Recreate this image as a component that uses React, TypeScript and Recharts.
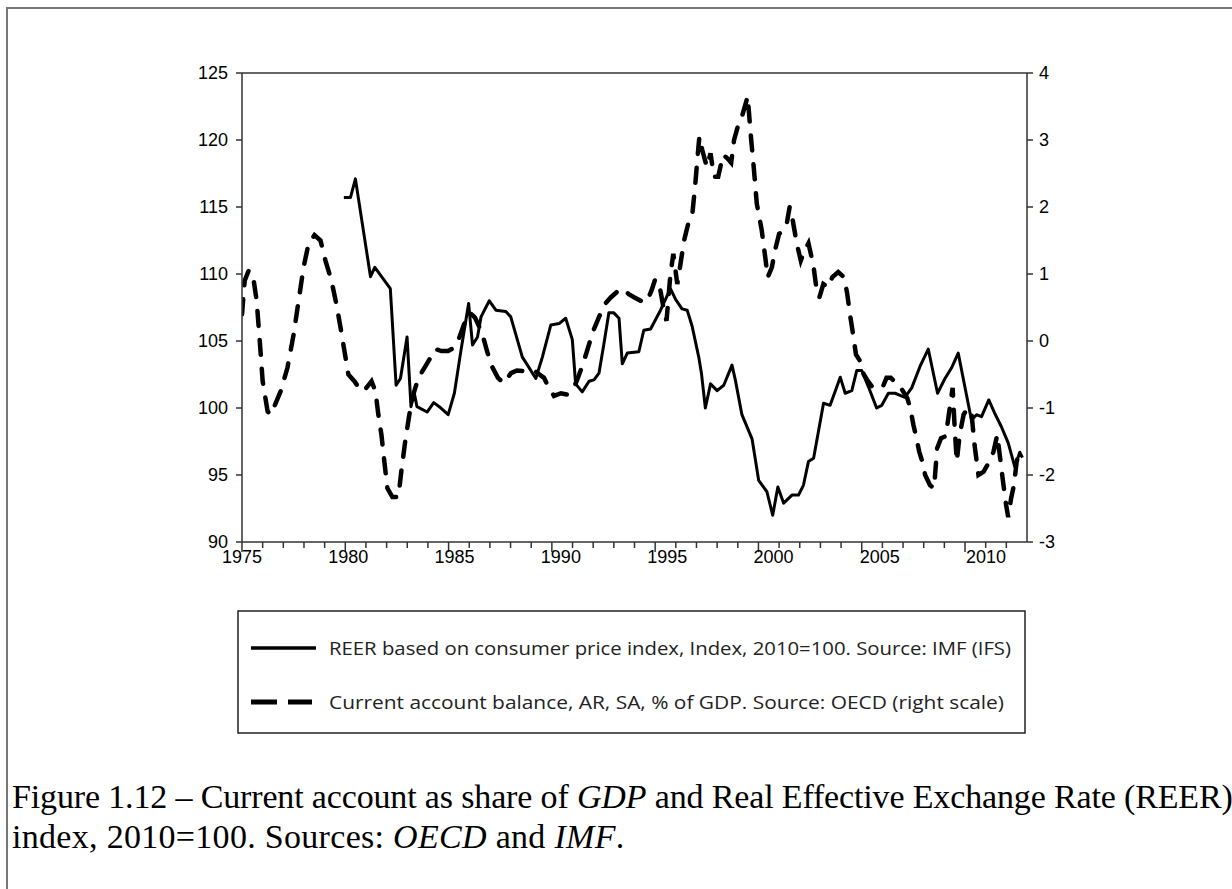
import React from "react";
import { Line, LineChart, ReferenceLine, XAxis, YAxis } from "recharts";

// REER (left scale), vertices
const reerYear = [
  1979.93, 1980.25, 1980.49, 1981.22, 1981.43, 1982.18, 1982.46, 1982.67, 1982.99, 1983.18,
  1983.34, 1983.47, 1983.96, 1984.28, 1984.55, 1984.98, 1985.28, 1985.6, 1985.97, 1986.16,
  1986.4, 1986.57, 1986.97, 1987.29, 1987.77, 1988.01, 1988.57, 1988.82, 1989.22, 1989.54,
  1989.95, 1990.35, 1990.67, 1990.99, 1991.15, 1991.47, 1991.8, 1992.04, 1992.28, 1992.52,
  1992.76, 1993.0, 1993.25, 1993.41, 1993.65, 1994.21, 1994.45, 1994.78, 1995.26, 1995.74,
  1995.99, 1996.3, 1996.55, 1996.79, 1997.11, 1997.24, 1997.43, 1997.68, 1998.0, 1998.32,
  1998.72, 1998.88, 1999.2, 1999.69, 2000.01, 2000.41, 2000.69, 2000.94, 2001.22, 2001.62,
  2001.94, 2002.18, 2002.42, 2002.67, 2003.15, 2003.47, 2003.96, 2004.2, 2004.52, 2004.76,
  2005.0, 2005.32, 2005.72, 2005.97, 2006.29, 2006.61, 2007.09, 2007.42, 2007.82, 2008.22,
  2008.67, 2009.03, 2009.35, 2009.67, 2009.99, 2010.31, 2010.56, 2010.8, 2011.15, 2011.44,
  2011.76, 2012.09, 2012.41, 2012.65, 2012.78
];
const reerValue = [
  115.7, 115.7, 117.1, 109.8, 110.5, 108.9, 101.7, 102.2, 105.3, 100.1,
  101.1, 100.1, 99.7, 100.4, 100.1, 99.5, 101.1, 104.3, 107.8, 104.7,
  105.3, 106.8, 108.0, 107.3, 107.2, 106.8, 103.8, 103.2, 102.2, 103.8,
  106.2, 106.3, 106.7, 105.1, 101.8, 101.2, 102.0, 102.1, 102.6, 104.8,
  107.1, 107.1, 106.7, 103.3, 104.1, 104.2, 105.8, 105.9, 107.3, 108.9,
  108.1, 107.4, 107.3, 106.1, 103.8, 102.6, 100.0, 101.8, 101.3, 101.7,
  103.2, 102.1, 99.5, 97.7, 94.6, 93.75, 92.0, 94.1, 92.9, 93.5,
  93.5, 94.25, 96.0, 96.25, 100.35, 100.2, 102.3, 101.1, 101.3, 102.8,
  102.8, 101.6, 100.0, 100.2, 101.1, 101.1, 100.8, 101.5, 103.1, 104.4,
  101.1, 102.2, 103.0, 104.1, 101.6, 99.1, 99.5, 99.35, 100.6, 99.6,
  98.6, 97.4, 95.6, 96.7, 96.3
];

// Current account balance, % of GDP (right scale)
const caYear = [
  1975.0, 1975.13, 1975.32, 1975.52, 1975.71, 1975.86, 1976.0, 1976.24, 1976.4, 1976.87,
  1977.2, 1977.5, 1977.74, 1977.98, 1978.22, 1978.51, 1978.8, 1979.04, 1979.33, 1979.57,
  1979.77, 1979.96, 1980.15, 1980.44, 1980.78, 1981.02, 1981.27, 1981.46, 1981.6, 1981.75,
  1981.89, 1982.04, 1982.28, 1982.57, 1982.71, 1982.9, 1983.1, 1983.29, 1983.54, 1983.83,
  1984.12, 1984.36, 1984.65, 1984.98, 1985.27, 1985.46, 1985.75, 1986.04, 1986.28, 1986.62,
  1986.86, 1987.1, 1987.39, 1987.68, 1988.02, 1988.31, 1988.65, 1988.99, 1989.23, 1989.62,
  1989.86, 1990.1, 1990.44, 1990.73, 1991.02, 1991.2, 1991.5, 1991.75, 1992.0, 1992.27,
  1992.56, 1992.85, 1993.14, 1993.43, 1993.72, 1994.0, 1994.3, 1994.58, 1994.82, 1995.0,
  1995.2, 1995.4, 1995.55, 1995.74, 1995.88, 1996.07, 1996.2, 1996.4, 1996.6, 1996.8,
  1996.93, 1997.04, 1997.14, 1997.28, 1997.5, 1997.68, 1997.85, 1998.05, 1998.29, 1998.48,
  1998.68, 1998.82, 1999.0, 1999.2, 1999.48, 1999.62, 1999.77, 1999.92, 2000.16, 2000.35,
  2000.45, 2000.65, 2000.8, 2001.0, 2001.22, 2001.37, 2001.51, 2001.66, 2001.86, 2002.05,
  2002.23, 2002.42, 2002.66, 2002.8, 2002.95, 2003.14, 2003.38, 2003.57, 2003.86, 2004.15,
  2004.3, 2004.43, 2004.58, 2004.72, 2004.92, 2005.1, 2005.3, 2005.5, 2005.76, 2006.0,
  2006.2, 2006.4, 2006.58, 2006.8, 2007.0, 2007.2, 2007.35, 2007.5, 2007.65, 2007.78,
  2007.93, 2008.07, 2008.3, 2008.5, 2008.65, 2008.84, 2009.07, 2009.26, 2009.4, 2009.5,
  2009.6, 2009.74, 2009.93, 2010.13, 2010.32, 2010.46, 2010.65, 2010.9, 2011.18, 2011.38,
  2011.56, 2011.7, 2011.84, 2011.99, 2012.09, 2012.23, 2012.37, 2012.5, 2012.66
];
const caValue = [
  0.4, 0.9, 1.05, 1.0, 0.6, 0.0, -0.6, -1.05, -1.1, -0.75,
  -0.4, 0.1, 0.6, 1.1, 1.45, 1.58, 1.5, 1.2, 0.9, 0.55,
  0.2, -0.15, -0.5, -0.6, -0.75, -0.7, -0.6, -0.75, -1.1, -1.4,
  -1.8, -2.2, -2.33, -2.33, -1.95, -1.5, -1.1, -0.8, -0.55, -0.4,
  -0.25, -0.12, -0.15, -0.15, -0.1, 0.0, 0.25, 0.42, 0.35, 0.12,
  -0.15, -0.38, -0.55, -0.63, -0.48, -0.44, -0.45, -0.45, -0.46, -0.55,
  -0.7, -0.82, -0.78, -0.8, -0.72, -0.6, -0.35, -0.1, 0.15, 0.35,
  0.55, 0.65, 0.73, 0.78, 0.7, 0.65, 0.6, 0.58, 0.75, 0.92,
  0.85, 0.5, 0.3, 1.0, 1.3, 0.85, 1.1, 1.5, 1.75, 1.9,
  2.3, 2.7, 3.05, 2.85, 2.6, 2.8, 2.45, 2.45, 2.78, 2.73,
  2.66, 3.0, 3.2, 3.35, 3.65, 3.1, 2.6, 2.05, 1.65, 1.2,
  0.95, 1.1, 1.35, 1.6, 1.65, 1.75, 2.0, 1.8, 1.45, 1.2,
  1.35, 1.46, 1.13, 0.8, 0.65, 0.85, 0.8, 0.95, 1.03, 0.95,
  0.7, 0.4, 0.1, -0.2, -0.3, -0.5, -0.6, -0.68, -0.7, -0.7,
  -0.55, -0.55, -0.6, -0.65, -0.75, -0.85, -1.0, -1.25, -1.45, -1.65,
  -1.8, -2.0, -2.15, -2.2, -1.6, -1.45, -1.42, -1.0, -0.7, -1.3,
  -1.8, -1.4, -1.1, -1.0, -1.1, -1.55, -2.0, -1.95, -1.8, -1.65,
  -1.4, -1.75, -2.1, -2.45, -2.63, -2.35, -2.15, -1.8, -1.6
];

const yearTicks = Array.from({ length: 38 }, (_, i) => 1975 + i);
const leftTicks = [90, 95, 100, 105, 110, 115, 120, 125];
const rightTicks = [-3, -2, -1, 0, 1, 2, 3, 4];

const legendLabels = [
  "REER based on consumer price index, Index, 2010=100. Source: IMF (IFS)",
  "Current account balance, AR, SA, % of GDP. Source: OECD (right scale)"
];

type Row = { t: number; reer?: number; ca?: number };

const rows: Row[] = (() => {
  const map = new Map<number, Row>();
  reerYear.forEach((t, i) => {
    const r = map.get(t) || { t };
    r.reer = reerValue[i];
    map.set(t, r);
  });
  caYear.forEach((t, i) => {
    const r = map.get(t) || { t };
    r.ca = caValue[i];
    map.set(t, r);
  });
  return Array.from(map.values()).sort((a, b) => a.t - b.t);
})();

const axisFont = "'Liberation Sans', Arial, sans-serif";
const axisColor = "#333";

const YearTick = (props: any) => {
  const { x, y, payload } = props;
  const major = payload.value % 5 === 0;
  // labels in the original drift a little to the right of their ticks
  const drift = (payload.value - 1975) * 0.6;
  return (
    <g>
      <line x1={x} x2={x} y1={y} y2={y + (major ? 10 : 6)} stroke={axisColor} strokeWidth={1.5} />
      {major && (
        <text x={x + drift} y={y + 21} textAnchor="middle" fontSize={18} fontFamily={axisFont} fill="#000">
          {payload.value}
        </text>
      )}
    </g>
  );
};

const legendFont = "'Liberation Sans Narrow', 'Open Sans', sans-serif";

const LegendBox = () => (
  <svg width={789} height={124} style={{ position: "absolute", left: 229, top: 601 }}>
    <rect x={1} y={1} width={787} height={122} fill="#fff" stroke="#222" strokeWidth={1.5} />
    <line x1={14} x2={79} y1={38} y2={38} stroke="#000" strokeWidth={3.5} />
    <line x1={14} x2={40} y1={92} y2={92} stroke="#000" strokeWidth={5} />
    <line x1={51} x2={75} y1={92} y2={92} stroke="#000" strokeWidth={5} />
    <text x={92} y={45} fontSize={19} fontFamily={legendFont} fill="#222" textLength={682} lengthAdjust="spacingAndGlyphs">
      {legendLabels[0]}
    </text>
    <text x={92} y={99} fontSize={19} fontFamily={legendFont} fill="#222" textLength={675} lengthAdjust="spacingAndGlyphs">
      {legendLabels[1]}
    </text>
  </svg>
);

export default function App() {
  return (
    <div
      style={{
        position: "absolute",
        left: 6,
        top: 7,
        width: 1224,
        height: 880,
        borderLeft: "2px solid #777",
        borderTop: "2px solid #777",
        overflow: "hidden",
        background: "#fff"
      }}
    >
      <div style={{ position: "absolute", left: 0, top: 0 }}>
        <LineChart
          width={1100}
          height={620}
          data={rows}
          margin={{ top: 64, right: 21, left: 174, bottom: 57 }}
        >
          <XAxis
            dataKey="t"
            type="number"
            domain={[1975, 2013]}
            ticks={yearTicks}
            interval={0}
            allowDataOverflow
            height={30}
            tickSize={0}
            tickMargin={0}
            tickLine={false}
            tick={<YearTick />}
            axisLine={{ stroke: axisColor, strokeWidth: 1.5 }}
          />
          <YAxis
            yAxisId="left"
            domain={[90, 125]}
            ticks={leftTicks}
            width={60}
            tickSize={6}
            tickMargin={8}
            tick={{ fontSize: 18, fill: "#000", fontFamily: axisFont }}
            tickLine={{ stroke: axisColor, strokeWidth: 1.5 }}
            axisLine={{ stroke: axisColor, strokeWidth: 1.5 }}
          />
          <YAxis
            yAxisId="right"
            orientation="right"
            domain={[-3, 4]}
            ticks={rightTicks}
            width={60}
            tickSize={6}
            tickMargin={6}
            tick={{ fontSize: 18, fill: "#000", fontFamily: axisFont }}
            tickLine={{ stroke: axisColor, strokeWidth: 1.5 }}
            axisLine={{ stroke: axisColor, strokeWidth: 1.5 }}
          />
          <ReferenceLine yAxisId="left" y={125} stroke={axisColor} strokeWidth={1.5} />
          <Line
            yAxisId="right"
            type="linear"
            dataKey="ca"
            stroke="#000"
            strokeWidth={4.5}
            strokeDasharray="15 14"
            strokeLinecap="round"
            dot={false}
            connectNulls
            isAnimationActive={false}
          />
          <Line
            yAxisId="left"
            type="linear"
            dataKey="reer"
            stroke="#000"
            strokeWidth={3}
            strokeLinejoin="round"
            dot={false}
            connectNulls
            isAnimationActive={false}
          />
        </LineChart>
      </div>
      <LegendBox />
      <div
        style={{
          position: "absolute",
          left: 4,
          top: 768,
          width: 1240,
          fontFamily: "'Liberation Serif', 'DejaVu Serif', serif",
          fontSize: 34,
          lineHeight: "40px",
          color: "#000",
          whiteSpace: "nowrap"
        }}
      >
        <div style={{ letterSpacing: -0.15 }}>
          Figure 1.12 – Current account as share of <i>GDP</i> and Real Effective Exchange Rate (REER)
        </div>
        <div style={{ letterSpacing: 0.3 }}>
          index, 2010=100. Sources: <i>OECD</i> and <i>IMF</i>.
        </div>
      </div>
    </div>
  );
}
